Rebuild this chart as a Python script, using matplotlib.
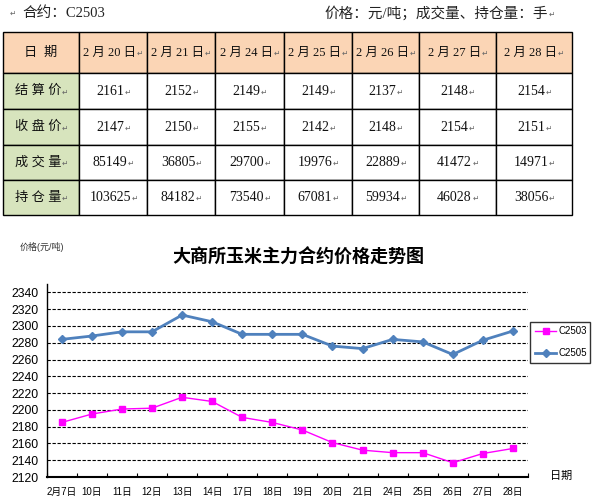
import matplotlib
matplotlib.use('Agg')
import matplotlib.pyplot as plt
from matplotlib.patches import Rectangle
import numpy as np

plt.rcParams['font.family'] = ['Liberation Sans', 'Noto Sans CJK SC', 'DejaVu Sans']

# table data
contract = 'C2503'
dates = ['2月20日', '2月21日', '2月24日', '2月25日', '2月26日', '2月27日', '2月28日']
row_names = ['结算价', '收盘价', '成交量', '持仓量']
settle = [2161, 2152, 2149, 2149, 2137, 2148, 2154]
close = [2147, 2150, 2155, 2142, 2148, 2154, 2151]
volume = [85149, 36805, 29700, 19976, 22889, 41472, 14971]
open_int = [103625, 84182, 73540, 67081, 59934, 46028, 38056]

# chart data
days = ['2月7日', '10日', '11日', '12日', '13日', '14日', '17日', '18日',
        '19日', '20日', '21日', '24日', '25日', '26日', '27日', '28日']
c2503 = [2185, 2195, 2201, 2202, 2215, 2210, 2191, 2185,
         2176, 2161, 2152, 2149, 2149, 2137, 2148, 2154]
c2505 = [2284, 2288, 2293, 2293, 2313, 2305, 2290, 2290,
         2290, 2276, 2273, 2284, 2281, 2266, 2283, 2294]

W, H = 592, 499
fig = plt.figure(figsize=(W / 100, H / 100), dpi=100)
renderer = fig.canvas.get_renderer()

# page axes in pixel coords for the table part
page = fig.add_axes([0, 0, 1, 1])
page.set_xlim(0, W)
page.set_ylim(H, 0)
page.axis('off')

serif = ['Liberation Serif', 'Noto Sans CJK SC', 'DejaVu Sans']
mark = '\u21b5'


def cell_text(x, y, s, size):
    # text followed by a small paragraph mark, both kept centred
    t = page.text(x - 3, y, s, fontsize=size, ha='center', va='center', family=serif,
                  color='#111111')
    bb = t.get_window_extent(renderer)
    page.text(bb.x1 + 0.5, y + 1, mark, fontsize=5.5, ha='left', va='center',
              color='#666666', family=['DejaVu Sans'])


page.text(10, 13, mark, fontsize=5.5, color='#666666', va='center', family=['DejaVu Sans'])
page.text(22, 13, '合约：' + contract, fontsize=10.5, va='center', family=serif,
          color='#222222')
page.text(548, 13, '价格：元/吨；成交量、持仓量：手', fontsize=10.5, va='center',
          ha='right', family=serif, color='#222222')
page.text(549, 14, mark, fontsize=5.5, color='#666666', va='center', family=['DejaVu Sans'])

col_x = [3, 79, 147, 215, 284, 352, 419, 496, 572]
row_y = [32, 73, 109, 145, 180, 215]
peach = '#FBD5B5'
green = '#D7E4BD'

table_rows = [settle, close, volume, open_int]
for r in range(5):
    for c in range(8):
        x0, x1 = col_x[c], col_x[c + 1]
        y0, y1 = row_y[r], row_y[r + 1]
        if r == 0:
            fc = peach
        elif c == 0:
            fc = green
        else:
            fc = 'white'
        page.add_patch(Rectangle((x0, y0), x1 - x0, y1 - y0, facecolor=fc,
                                 edgecolor='black', linewidth=1.0))
        cx, cy = (x0 + x1) / 2, (y0 + y1) / 2
        if r == 0 and c == 0:
            page.text(cx, cy, '日  期', fontsize=9.5, ha='center', va='center',
                      family=serif, color='#111111')
        elif r == 0:
            cell_text(cx, cy, dates[c - 1].replace('月', ' 月 ').replace('日', ' 日'), 9)
        elif c == 0:
            cell_text(cx, cy, ' '.join(row_names[r - 1]), 9.5)
        else:
            cell_text(cx, cy, str(table_rows[r - 1][c - 1]), 10)

# chart
ax = fig.add_axes([46.7 / W, 1 - 477 / H, (528 - 46.7) / W, (477 - 284) / H])
x = np.arange(len(days))
ax.plot(x, c2503, color='#FF00FF', linewidth=1.0, marker='s', markersize=4,
        label='C2503')
ax.plot(x, c2505, color='#4F81BD', linewidth=2.0, marker='D', markersize=4.5,
        label='C2505')

ax.set_xlim(-0.5, len(days) - 0.5)
ax.set_ylim(2120, 2350)
yt = np.arange(2120, 2341, 20)
ax.set_yticks(yt)
ax.set_yticklabels([str(v) for v in yt], fontsize=8.8)
for v in yt[1:]:
    ax.axhline(v, color='black', linewidth=0.8, linestyle=(0, (3, 1.5)), zorder=0)

ax.set_xticks(x)
ax.set_xticklabels(days, fontsize=7)
ax.set_xticks(np.arange(-0.5, len(days)), minor=True)
ax.tick_params(axis='x', which='major', length=0, pad=7)
ax.tick_params(axis='x', which='minor', direction='in', length=3, width=0.8)
ax.tick_params(axis='y', length=0, pad=6)

ax.spines['top'].set_visible(False)
ax.spines['right'].set_visible(False)
ax.spines['left'].set_linewidth(1.0)
ax.spines['bottom'].set_linewidth(1.5)

leg = ax.legend(loc='upper left', bbox_to_anchor=(530 / W, 1 - 361.5 / H, 60 / W, 40 / H),
                bbox_transform=fig.transFigure, mode='expand', fontsize=7,
                frameon=True, fancybox=False, handlelength=2.2, handletextpad=0.2,
                borderpad=0.5, labelspacing=1.2, borderaxespad=0)
leg.get_frame().set_edgecolor('black')
leg.get_frame().set_linewidth(1.0)

fig.text(172 / W, 1 - 257 / H, '大商所玉米主力合约价格走势图', fontsize=13,
         fontweight='bold', va='center', ha='left', family=['Noto Sans CJK SC'])
fig.text(20 / W, 1 - 247 / H, '价格(元/吨)', fontsize=6.5, va='center', color='#333333')
fig.text(550 / W, 1 - 476 / H, '日期', fontsize=8, va='center')

fig.savefig('out.png', dpi=100)
